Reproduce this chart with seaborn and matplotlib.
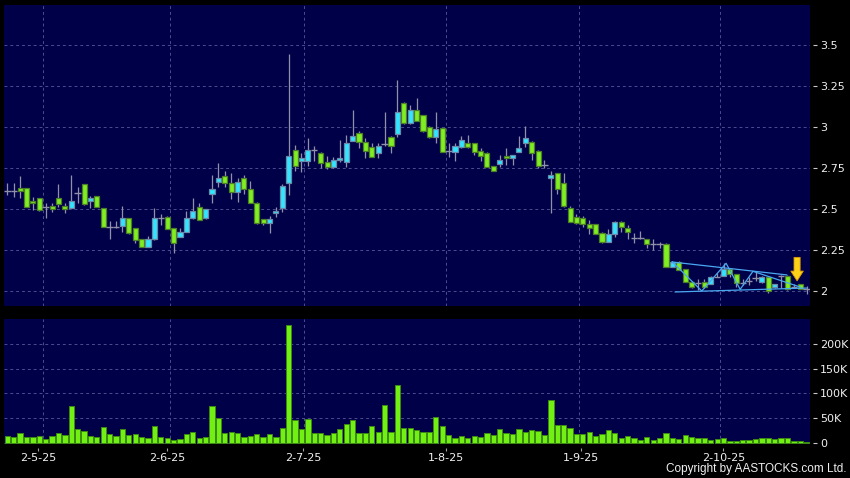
import numpy as np
import matplotlib
matplotlib.use("Agg")
import matplotlib.pyplot as plt
import seaborn as sns

# ---- data (daily candles, volume in thousands) ----
open_ = [2.608, 2.608, 2.626, 2.626, 2.551, 2.565, 2.510, 2.518, 2.565, 2.518,
         2.504, 2.596, 2.650, 2.549, 2.579, 2.504, 2.388, 2.388, 2.396, 2.443,
         2.382, 2.315, 2.270, 2.315, 2.443, 2.453, 2.382, 2.331, 2.362, 2.443,
         2.514, 2.443, 2.590, 2.666, 2.701, 2.657, 2.606, 2.687, 2.620, 2.535,
         2.437, 2.413, 2.474, 2.504, 2.657, 2.860, 2.793, 2.795, 2.860, 2.840,
         2.789, 2.758, 2.799, 2.789, 2.917, 2.961, 2.911, 2.880, 2.840, 2.896,
         2.941, 2.957, 3.144, 3.022, 3.104, 3.071, 3.002, 2.941, 2.991, 2.854,
         2.849, 2.880, 2.901, 2.901, 2.854, 2.840, 2.762, 2.774, 2.823, 2.809,
         2.849, 2.901, 2.911, 2.856, 2.768, 2.687, 2.717, 2.657, 2.504, 2.453,
         2.443, 2.407, 2.407, 2.352, 2.301, 2.346, 2.423, 2.382, 2.321, 2.321,
         2.315, 2.285, 2.285, 2.285, 2.148, 2.177, 2.132, 2.057, 2.051, 2.053,
         2.041, 2.084, 2.091, 2.132, 2.102, 2.047, 2.061, 2.077, 2.053, 2.083,
         2.022, 2.091, 2.091, 2.026, 2.041, 2.012]
high = [2.656, 2.656, 2.701, 2.630, 2.575, 2.570, 2.535, 2.535, 2.652, 2.535,
        2.707, 2.636, 2.655, 2.579, 2.582, 2.508, 2.429, 2.429, 2.518, 2.445,
        2.385, 2.320, 2.335, 2.504, 2.468, 2.460, 2.385, 2.382, 2.488, 2.569,
        2.539, 2.502, 2.707, 2.779, 2.732, 2.718, 2.691, 2.707, 2.671, 2.540,
        2.440, 2.457, 2.514, 2.652, 3.445, 2.890, 2.841, 2.931, 2.884, 2.845,
        2.823, 2.819, 2.919, 2.951, 3.104, 2.978, 2.931, 2.904, 2.904, 3.093,
        2.945, 3.287, 3.150, 3.134, 3.175, 3.075, 3.005, 3.093, 2.995, 2.900,
        2.900, 2.945, 2.950, 2.905, 2.870, 2.845, 2.765, 2.829, 2.870, 2.829,
        2.945, 3.005, 2.915, 2.860, 2.799, 2.734, 2.717, 2.717, 2.520, 2.470,
        2.460, 2.430, 2.410, 2.362, 2.380, 2.425, 2.425, 2.405, 2.353, 2.366,
        2.320, 2.317, 2.300, 2.290, 2.180, 2.180, 2.135, 2.060, 2.071, 2.071,
        2.090, 2.108, 2.170, 2.135, 2.105, 2.071, 2.087, 2.122, 2.090, 2.090,
        2.045, 2.095, 2.095, 2.040, 2.045, 2.032]
low = [2.585, 2.575, 2.565, 2.510, 2.494, 2.490, 2.443, 2.484, 2.514, 2.474,
       2.504, 2.535, 2.525, 2.504, 2.510, 2.390, 2.315, 2.382, 2.362, 2.350,
       2.295, 2.268, 2.268, 2.310, 2.402, 2.375, 2.234, 2.330, 2.360, 2.440,
       2.430, 2.440, 2.535, 2.636, 2.636, 2.559, 2.545, 2.594, 2.535, 2.410,
       2.400, 2.352, 2.453, 2.484, 2.585, 2.734, 2.726, 2.762, 2.795, 2.748,
       2.742, 2.748, 2.789, 2.758, 2.917, 2.872, 2.809, 2.815, 2.809, 2.884,
       2.840, 2.941, 3.020, 3.020, 3.035, 2.970, 2.935, 2.900, 2.845, 2.820,
       2.790, 2.875, 2.875, 2.830, 2.795, 2.755, 2.730, 2.758, 2.770, 2.770,
       2.845, 2.880, 2.800, 2.750, 2.752, 2.474, 2.594, 2.512, 2.420, 2.410,
       2.390, 2.350, 2.345, 2.290, 2.300, 2.330, 2.360, 2.320, 2.290, 2.317,
       2.260, 2.248, 2.260, 2.145, 2.145, 2.125, 2.055, 2.017, 2.005, 2.020,
       2.040, 2.084, 2.090, 2.088, 2.027, 2.037, 2.037, 2.060, 2.050, 1.990,
       2.020, 2.020, 2.005, 2.020, 2.010, 1.980]
close = [2.608, 2.608, 2.608, 2.514, 2.535, 2.494, 2.510, 2.502, 2.528, 2.498,
         2.549, 2.596, 2.528, 2.565, 2.514, 2.392, 2.388, 2.388, 2.443, 2.352,
         2.311, 2.270, 2.315, 2.443, 2.443, 2.378, 2.291, 2.362, 2.443, 2.488,
         2.433, 2.498, 2.620, 2.689, 2.657, 2.606, 2.667, 2.620, 2.535, 2.413,
         2.413, 2.437, 2.488, 2.640, 2.823, 2.762, 2.811, 2.860, 2.860, 2.779,
         2.758, 2.799, 2.809, 2.901, 2.945, 2.911, 2.856, 2.819, 2.884, 2.896,
         2.884, 3.093, 3.022, 3.104, 3.039, 2.974, 2.941, 2.990, 2.849, 2.854,
         2.884, 2.921, 2.880, 2.849, 2.823, 2.758, 2.734, 2.799, 2.811, 2.829,
         2.872, 2.931, 2.840, 2.764, 2.768, 2.707, 2.620, 2.518, 2.423, 2.413,
         2.407, 2.382, 2.346, 2.301, 2.346, 2.423, 2.392, 2.362, 2.321, 2.321,
         2.285, 2.285, 2.285, 2.148, 2.177, 2.126, 2.057, 2.023, 2.051, 2.023,
         2.084, 2.084, 2.132, 2.102, 2.051, 2.047, 2.061, 2.077, 2.083, 2.000,
         2.041, 2.091, 2.010, 2.026, 2.012, 2.012]
volume_k = [14.7, 11.3, 19.3, 12.7, 12.7, 14.0, 8.0, 14.0, 20.0, 16.0,
            74.7, 28.0, 24.7, 14.0, 12.7, 31.3, 18.0, 14.0, 27.3, 15.3,
            17.3, 11.3, 9.3, 34.0, 12.0, 10.7, 6.0, 7.3, 18.0, 22.7,
            10.0, 12.0, 74.7, 50.7, 20.0, 22.7, 20.7, 12.0, 14.0, 17.3,
            12.0, 17.3, 12.0, 29.3, 237.0, 46.7, 28.0, 49.3, 19.3, 20.0,
            16.0, 19.3, 28.0, 38.0, 47.3, 20.0, 20.0, 34.7, 21.3, 76.7,
            21.3, 117.3, 30.0, 30.0, 25.3, 21.3, 21.3, 52.0, 34.0, 15.3,
            10.7, 14.0, 10.7, 14.0, 11.3, 20.0, 16.7, 27.3, 20.0, 18.7,
            27.3, 22.7, 26.0, 23.3, 16.7, 87.3, 36.0, 37.3, 29.3, 18.0,
            18.0, 21.3, 14.7, 18.7, 26.7, 20.0, 9.3, 14.7, 10.0, 5.3,
            12.0, 5.3, 10.7, 20.7, 10.0, 8.0, 15.3, 12.0, 10.0, 9.3,
            6.7, 8.0, 9.3, 4.7, 4.7, 6.7, 6.7, 8.0, 10.0, 9.3,
            8.0, 10.7, 10.0, 4.0, 4.0, 2.0]

date_labels = ["2-5-25", "2-6-25", "2-7-25", "1-8-25", "1-9-25", "2-10-25"]
date_tick_pos = [4.85, 24.97, 46.29, 68.55, 89.70, 111.96]
date_grid_pos = [5.54, 25.49, 46.44, 68.55, 89.45, 111.49]
price_ticks = [2, 2.25, 2.5, 2.75, 3, 3.25, 3.5]
price_tick_labels = ["2", "2.25", "2.5", "2.75", "3", "3.25", "3.5"]
volume_ticks = [0, 50, 100, 150, 200]
volume_tick_labels = ["0", "50K", "100K", "150K", "200K"]

# triangle pattern drawn over the last weeks
zigzag_x = [104.0, 108.6, 112.4, 114.6, 116.6, 124.0]
zigzag_y = [2.177, 2.000, 2.169, 2.010, 2.120, 2.024]
upper_x = [103.9, 121.9]
upper_y = [2.177, 2.098]
lower_x = [104.4, 125.0]
lower_y = [1.994, 2.018]
arrow_x = 123.5
arrow_top = 2.205
arrow_tip = 2.062

# ---- styling ----
NAVY = "#000048"
GRID = "#4c4c90"
GREEN = "#80ee22"
GREEN_EDGE = "#4c7e28"
CYAN = "#33e4ff"
CYAN_EDGE = "#6a88a8"
WICK = "#9090a8"
VOL = "#72f014"
VOL_EDGE = "#3c8a12"
TXT = "#f0f0f0"

sns.set_style("dark", {"axes.facecolor": NAVY, "figure.facecolor": "black"})
plt.rcParams["font.family"] = ["DejaVu Sans"]

fig = plt.figure(figsize=(8.5, 4.78), dpi=100, facecolor="black")
ax_p = fig.add_axes([4 / 850, 172 / 478, 806 / 850, 301 / 478])
ax_v = fig.add_axes([4 / 850, 34.5 / 478, 806 / 850, 124.5 / 478])

idx = np.arange(len(close))
o = np.array(open_)
c = np.array(close)
h = np.array(high)
lo = np.array(low)

# ---- price panel ----
ax_p.vlines(idx, lo, h, color=WICK, lw=0.9, zorder=2)
up = c > o
down = c < o
doji = c == o
ax_p.bar(idx[up], (c - o)[up], bottom=o[up], width=0.8, color=CYAN,
         edgecolor=CYAN_EDGE, linewidth=0.9, zorder=3)
ax_p.bar(idx[down], (o - c)[down], bottom=c[down], width=0.8, color=GREEN,
         edgecolor=GREEN_EDGE, linewidth=0.9, zorder=3)
ax_p.hlines(c[doji], idx[doji] - 0.5, idx[doji] + 0.5, color=WICK, lw=1.0, zorder=3)

for xs, ys in [(upper_x, upper_y), (lower_x, lower_y), (zigzag_x, zigzag_y)]:
    sns.lineplot(x=xs, y=ys, ax=ax_p, sort=False, color="#4aa8f0", lw=0.9, zorder=4)

ax_p.annotate("", xy=(arrow_x, arrow_tip), xytext=(arrow_x, arrow_top),
              arrowprops=dict(arrowstyle="simple,head_length=7,head_width=9,tail_width=4.4",
                              mutation_scale=1, fc="#ffd21a", ec="#e09a00", lw=0.6,
                              shrinkA=0, shrinkB=0), zorder=5)

ax_p.set_xlim(-0.52, 125.52)
ax_p.set_ylim(1.9085, 3.744)
ax_p.set_yticks(price_ticks, price_tick_labels)
ax_p.set_xticks([])
ax_p.set_xticks(date_grid_pos, minor=True)

# ---- volume panel ----
sns.barplot(x=idx, y=volume_k, ax=ax_v, color=VOL, saturation=1, width=0.82,
            edgecolor=VOL_EDGE, linewidth=0.7, errorbar=None, zorder=3)
ax_v.set_xlim(-0.52, 125.52)
ax_v.set_ylim(-1, 250)
ax_v.set_yticks(volume_ticks, volume_tick_labels)
ax_v.set_xticks(date_tick_pos, date_labels)
ax_v.set_xticks(date_grid_pos, minor=True)
ax_v.set_xlabel("")
ax_v.set_ylabel("")

for ax in (ax_p, ax_v):
    ax.set_facecolor(NAVY)
    ax.yaxis.tick_right()
    for s in ax.spines.values():
        s.set_visible(False)
    ax.spines["right"].set_position(("outward", 2.2))
    ax.spines["bottom"].set_position(("outward", 3))
    ax.grid(False)
    ax.grid(which="minor", axis="x", color=GRID, ls=(0, (3, 3)), lw=0.7)
    ax.grid(which="major", axis="y", color=GRID, ls=(0, (3, 3)), lw=0.7)
    ax.tick_params(axis="y", which="major", right=True, left=False, length=2.6,
                   width=0.8, color="#c8c8c8", labelcolor=TXT, labelsize=8, pad=2.5)
    ax.tick_params(axis="x", which="major", bottom=True, length=1.8, width=0.8,
                   color="#a0a0a0", labelcolor=TXT, labelsize=8, pad=2.2)
    ax.tick_params(which="minor", length=0)

fig.text(846 / 850, 3 / 478, "Copyright by AASTOCKS.com Ltd.", color=TXT,
         fontsize=8.5, family=["Liberation Sans", "DejaVu Sans"], ha="right", va="bottom")

fig.savefig("out.png", dpi=100, facecolor="black")
